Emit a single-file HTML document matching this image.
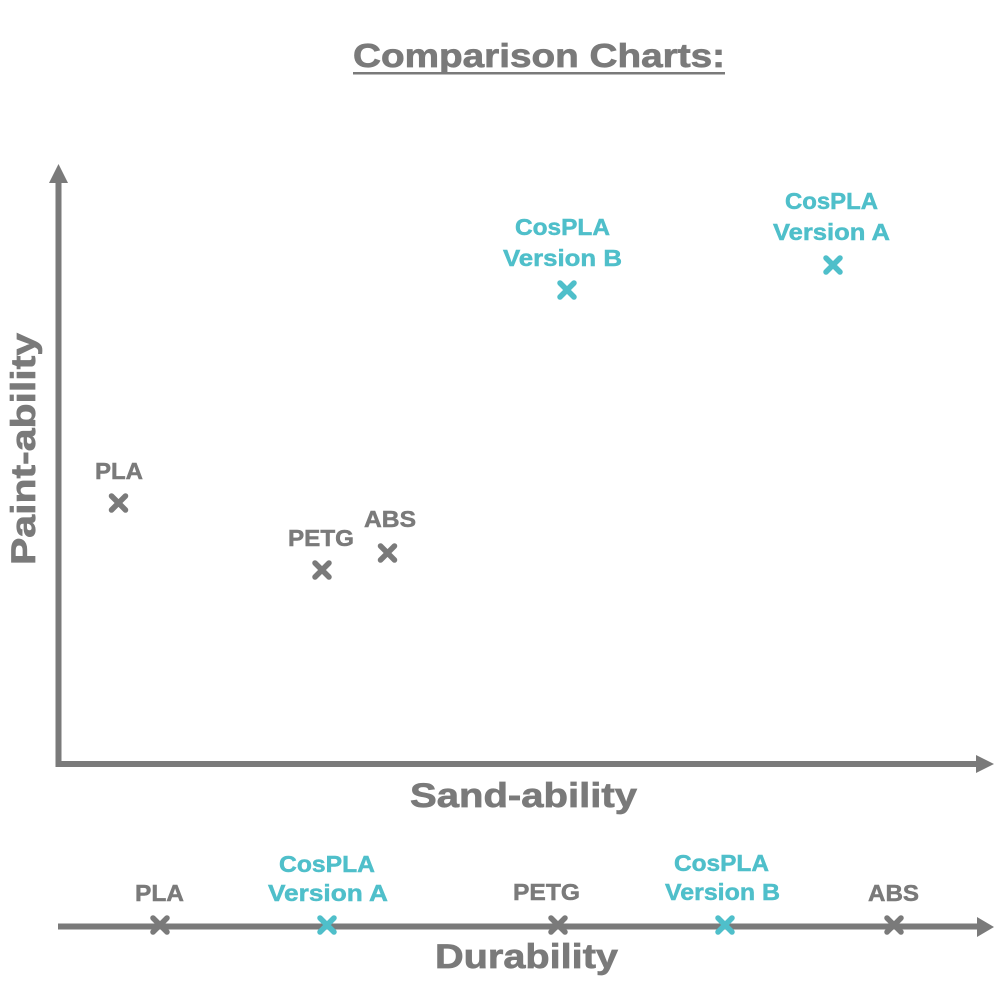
<!DOCTYPE html>
<html><head><meta charset="utf-8"><style>
html,body{margin:0;padding:0;background:#fff;}
svg{display:block;}
text{font-family:"Liberation Sans",sans-serif;font-weight:bold;}
</style></head><body>
<svg width="1000" height="1000" viewBox="0 0 1000 1000" xmlns="http://www.w3.org/2000/svg">
<rect width="1000" height="1000" fill="#fff"/>
<g fill="#7a7a7a">
<g stroke="#7a7a7a" stroke-width="0.7">
<text x="353" y="67" font-size="33" textLength="372" lengthAdjust="spacingAndGlyphs">Comparison Charts:</text>
<text x="410" y="807" font-size="34" textLength="227" lengthAdjust="spacingAndGlyphs">Sand-ability</text>
<text x="435" y="968" font-size="34" textLength="183" lengthAdjust="spacingAndGlyphs">Durability</text>
<text transform="translate(35,565) rotate(-90)" x="0" y="0" font-size="34" textLength="232" lengthAdjust="spacingAndGlyphs">Paint-ability</text>
</g>
<rect x="353" y="72" width="372" height="2.5"/>
<!-- axes -->
<rect x="55.5" y="180" width="6" height="587"/>
<polygon points="49,183 68,183 58.5,164"/>
<rect x="55.5" y="761" width="922" height="6"/>
<polygon points="976,755 976,773 994,764"/>
<rect x="58" y="923.5" width="921" height="6"/>
<polygon points="977,917 977,937 994,927"/>
</g>
<!-- gray labels -->
<g fill="#7a7a7a" stroke="#7a7a7a" stroke-width="0.5" font-size="23">
<text x="95" y="479" textLength="48" lengthAdjust="spacingAndGlyphs">PLA</text>
<text x="288" y="546" textLength="66" lengthAdjust="spacingAndGlyphs">PETG</text>
<text x="364" y="527" textLength="52" lengthAdjust="spacingAndGlyphs">ABS</text>
<text x="135" y="901" textLength="49" lengthAdjust="spacingAndGlyphs">PLA</text>
<text x="513" y="900" textLength="67" lengthAdjust="spacingAndGlyphs">PETG</text>
<text x="868" y="901" textLength="51" lengthAdjust="spacingAndGlyphs">ABS</text>
</g>
<!-- teal labels -->
<g fill="#4fbfca" stroke="#4fbfca" stroke-width="0.5" font-size="23">
<text x="515" y="235" textLength="95" lengthAdjust="spacingAndGlyphs">CosPLA</text>
<text x="503" y="266" textLength="119" lengthAdjust="spacingAndGlyphs">Version B</text>
<text x="785" y="209" textLength="93" lengthAdjust="spacingAndGlyphs">CosPLA</text>
<text x="773" y="240" textLength="117" lengthAdjust="spacingAndGlyphs">Version A</text>
<text x="279" y="872" textLength="96" lengthAdjust="spacingAndGlyphs">CosPLA</text>
<text x="268" y="901" textLength="120" lengthAdjust="spacingAndGlyphs">Version A</text>
<text x="674" y="871" textLength="95" lengthAdjust="spacingAndGlyphs">CosPLA</text>
<text x="665" y="900" textLength="115" lengthAdjust="spacingAndGlyphs">Version B</text>
</g>
<!-- markers -->
<g stroke="#7a7a7a" stroke-width="5.5" stroke-linecap="round" fill="none">
<path d="M111.5 496 L125.5 510 M125.5 496 L111.5 510"/>
<path d="M315 563 L329 577 M329 563 L315 577"/>
<path d="M380.5 546 L394.5 560 M394.5 546 L380.5 560"/>
<path d="M153 918 L167 932 M167 918 L153 932"/>
<path d="M551 918 L565 932 M565 918 L551 932"/>
<path d="M887 918 L901 932 M901 918 L887 932"/>
</g>
<g stroke="#4fbfca" stroke-width="5.5" stroke-linecap="round" fill="none">
<path d="M560 283 L574 297 M574 283 L560 297"/>
<path d="M826 258 L840 272 M840 258 L826 272"/>
<path d="M320 918 L334 932 M334 918 L320 932"/>
<path d="M718 918 L732 932 M732 918 L718 932"/>
</g>
</svg>
</body></html>
